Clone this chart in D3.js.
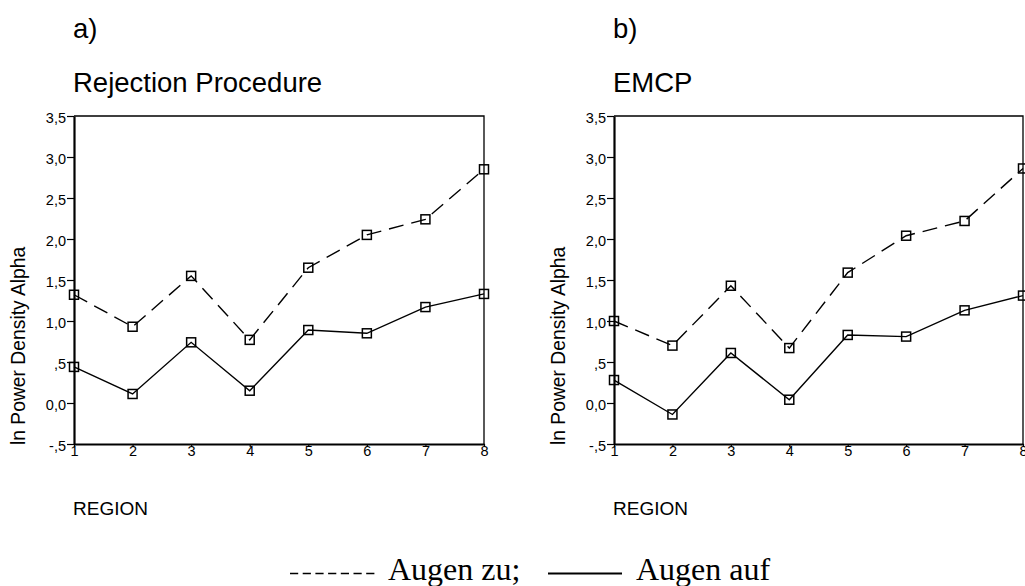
<!DOCTYPE html>
<html><head><meta charset="utf-8">
<script src="https://cdn.jsdelivr.net/npm/d3@7"></script>
<style>
body{margin:0;background:#fff;}
svg{display:block;}
text{fill:#000;}
</style></head>
<body>
<svg id="c" width="1025" height="586"></svg>
<script>
const regions = [1,2,3,4,5,6,7,8];
const yTicks = [-0.5,0,0.5,1,1.5,2,2.5,3,3.5];
const yTickLabels = ["-,5","0,0",",5","1,0","1,5","2,0","2,5","3,0","3,5"];
const panelLetters = ["a)","b)"];
const panelTitles = ["Rejection Procedure","EMCP"];
const yAxisTitle = "ln Power Density Alpha";
const xAxisTitle = "REGION";
const seriesNames = ["Augen zu;","Augen auf"];
// Panel a) Rejection Procedure
const rejZu  = [1.32,0.93,1.55,0.77,1.65,2.05,2.24,2.85];
const rejAuf = [0.44,0.11,0.74,0.15,0.89,0.85,1.17,1.33];
// Panel b) EMCP
const emcpZu  = [1.00,0.70,1.43,0.67,1.59,2.04,2.22,2.86];
const emcpAuf = [0.28,-0.14,0.61,0.04,0.83,0.81,1.13,1.31];

const panels = [
  {letter:panelLetters[0], title:panelTitles[0], zu:rejZu, auf:rejAuf, x0:74, x1:484},
  {letter:panelLetters[1], title:panelTitles[1], zu:emcpZu, auf:emcpAuf, x0:614, x1:1023}
];

const svg = d3.select("#c");
const FONT = "'Liberation Sans', Arial, sans-serif";
const plotTop = 116, plotBottom = 444;

panels.forEach(p => {
  const x = d3.scaleLinear().domain([1,8]).range([p.x0,p.x1]);
  const y = d3.scaleLinear().domain([-0.5,3.5]).range([plotBottom,plotTop]);
  const g = svg.append("g");

  g.append("text").attr("x",p.x0-1).attr("y",38).attr("font-family",FONT).attr("font-size",27.5).text(p.letter);
  g.append("text").attr("x",p.x0-1).attr("y",92).attr("font-family",FONT).attr("font-size",27.5).text(p.title);

  // frame top & right
  g.append("path").attr("d",`M${p.x0},${plotTop}H${p.x1}V${plotBottom}`).attr("fill","none").attr("stroke","#000").attr("stroke-width",1.3);

  const ya = d3.axisLeft(y).tickValues(yTicks).tickFormat((d,i)=>yTickLabels[i]).tickSize(7).tickSizeOuter(0).tickPadding(1);
  const yg = g.append("g").attr("transform",`translate(${p.x0},0)`).call(ya);
  yg.select(".domain").attr("stroke-width",2.2);
  yg.selectAll(".tick line").attr("stroke-width",1.2);
  yg.selectAll("text").attr("font-family",FONT).attr("font-size",14.5).attr("dy","0.45em");

  const xa = d3.axisBottom(x).tickValues(regions).tickFormat(d3.format("d")).tickSize(3).tickSizeOuter(0).tickPadding(0);
  const xg = g.append("g").attr("transform",`translate(0,${plotBottom})`).call(xa);
  xg.select(".domain").attr("stroke-width",2.2);
  xg.selectAll(".tick line").attr("stroke-width",1.2);
  xg.selectAll("text").attr("font-family",FONT).attr("font-size",14.5).attr("dy","0.6em");

  g.append("text").attr("transform",`translate(${p.x0-49},445) rotate(-90)`).attr("font-family",FONT).attr("font-size",19.3).text(yAxisTitle);
  g.append("text").attr("x",p.x0-1).attr("y",515).attr("font-family",FONT).attr("font-size",19).text(xAxisTitle);

  const line = d3.line().x((d,i)=>x(regions[i])).y(d=>y(d));
  g.append("path").datum(p.zu).attr("d",line).attr("fill","none").attr("stroke","#000").attr("stroke-width",1.4).attr("stroke-dasharray","15,8");
  g.append("path").datum(p.auf).attr("d",line).attr("fill","none").attr("stroke","#000").attr("stroke-width",1.4);

  [p.zu,p.auf].forEach(s => {
    g.selectAll(null).data(s).enter().append("rect")
      .attr("x",(d,i)=>x(regions[i])-4.5).attr("y",d=>y(d)-4.5)
      .attr("width",9).attr("height",9).attr("fill","none").attr("stroke","#000").attr("stroke-width",1.5);
  });
});

// legend
const SERIF = "'Liberation Serif','Times New Roman',serif";
svg.append("line").attr("x1",290).attr("x2",378).attr("y1",573.5).attr("y2",573.5).attr("stroke","#000").attr("stroke-width",1.5).attr("stroke-dasharray","8.2,4.5");
svg.append("text").attr("x",388).attr("y",580).attr("font-family",SERIF).attr("font-size",32).text(seriesNames[0]);
svg.append("line").attr("x1",548).attr("x2",622).attr("y1",573.5).attr("y2",573.5).attr("stroke","#000").attr("stroke-width",2);
svg.append("text").attr("x",636).attr("y",580).attr("font-family",SERIF).attr("font-size",32).text(seriesNames[1]);
</script>
</body></html>
